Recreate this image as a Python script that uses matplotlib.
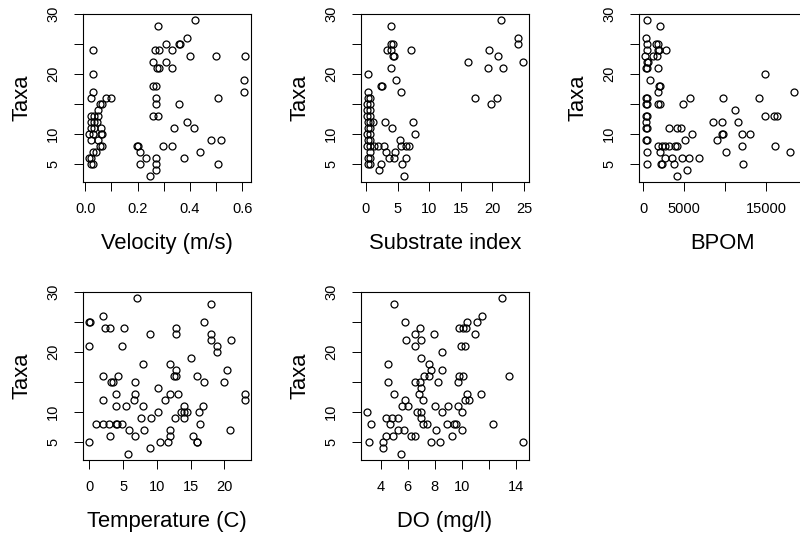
import numpy as np
import matplotlib
matplotlib.use("Agg")
import matplotlib.pyplot as plt

plt.rcParams['font.family'] = ['Liberation Sans', 'DejaVu Sans']

# Velocity (m/s) vs Taxa
vel_x = [0.029, 0.02, 0.08, 0.10, 0.057, 0.064, 0.048, 0.023, 0.035, 0.048,
         0.02, 0.035, 0.045, 0.02, 0.035, 0.06, 0.015, 0.03, 0.06, 0.063,
         0.02, 0.05, 0.058, 0.062, 0.03, 0.04, 0.016, 0.023, 0.02, 0.03,
         0.03, 0.03,
         0.42, 0.278, 0.609, 0.50, 0.40, 0.388, 0.357, 0.36, 0.31, 0.33,
         0.266, 0.28, 0.26, 0.31, 0.28, 0.275, 0.33, 0.606, 0.606, 0.26,
         0.27, 0.27, 0.27, 0.26, 0.278, 0.505, 0.357, 0.338, 0.388, 0.417,
         0.297, 0.33, 0.48, 0.518, 0.197, 0.20, 0.209, 0.23, 0.208, 0.438,
         0.378, 0.505, 0.27, 0.27, 0.27, 0.247]
vel_y = [17, 16, 16, 16, 15, 15, 14, 13, 13, 13,
         12, 12, 12, 11, 11, 11, 10, 10, 10, 10,
         9, 9, 8, 8, 7, 7, 6, 6, 5, 5,
         24, 20,
         29, 28, 23, 23, 23, 26, 25, 25, 25, 24,
         24, 24, 22, 22, 21, 21, 21, 19, 17, 18,
         18, 16, 15, 13, 13, 16, 15, 11, 12, 11,
         8, 8, 9, 9, 8, 8, 7, 6, 5, 7,
         6, 5, 6, 5, 4, 3]

# Substrate index vs Taxa
sub_x = [0.3, 0.3, 0.3, 0.6, 0.2, 0.7, 0.2, 0.7, 0.2, 0.7,
         0.3, 0.7, 1.1, 0.3, 0.7, 0.2, 0.7, 0.3, 0.7, 0.2,
         0.6, 1.3, 1.9, 0.6, 0.3, 0.7, 0.3, 0.7,
         2.8, 3.0, 4.1, 3.1, 3.6, 4.4, 4.6, 5.4, 5.6, 6.4,
         6.8, 6.4, 5.7, 6.0, 7.4, 7.8, 2.3, 2.1, 2.4, 2.5,
         7.05, 4.8, 5.5, 3.9, 3.9, 4.0, 4.2, 3.4, 4.0, 4.3, 4.5,
         21.4, 24.1, 24.0, 24.8, 19.4, 20.9, 16.2, 19.3, 21.6, 17.3,
         20.8, 19.8]
sub_y = [20, 17, 16, 16, 15, 15, 14, 14, 13, 13,
         12, 12, 12, 11, 11, 10, 10, 9, 9, 8,
         8, 8, 8, 7, 6, 6, 5, 5,
         8, 12, 11, 7, 6, 6, 7, 9, 8, 8,
         8, 6, 5, 3, 12, 10, 5, 4, 18, 18,
         24, 19, 17, 21, 28, 25, 25, 24, 24, 23, 23,
         29, 26, 25, 22, 24, 23, 22, 21, 21, 16,
         16, 15]

# BPOM vs Taxa
bpom_x = [430, 2030, 390, 470, 1560, 1875, 510, 1760, 1950, 2810,
          230, 1170, 1640, 510, 590, 350, 480, 1840, 900, 2070,
          1950, 1760, 1760, 2070, 350, 480, 300, 480, 300, 480,
          400, 300, 450, 380, 500, 450, 450,
          14880, 14180, 14920, 15940, 16400, 18440, 16090, 17970,
          9770, 11170, 8590, 9610, 11640, 8980, 9570, 9690, 12110, 13050,
          12110, 10160, 12150,
          5780, 4880, 5940, 5120, 4610, 4140, 3125, 6840, 5660, 4690,
          5310, 4180, 3750, 3515, 2620, 2150, 2270, 2070,
          1800, 2270, 2730, 3200, 3900, 4100]
bpom_y = [29, 28, 26, 25, 25, 25, 24, 24, 24, 24,
          23, 23, 23, 22, 22, 21, 21, 21, 19, 18,
          18, 17, 15, 15, 16, 16, 15, 15, 13, 13,
          12, 11, 11, 9, 9, 7, 5,
          20, 16, 13, 13, 13, 17, 8, 7,
          16, 14, 12, 12, 12, 9, 10, 10, 10, 10,
          8, 7, 5,
          16, 15, 10, 9, 11, 11, 11, 6, 6, 6,
          4, 3, 5, 6, 6, 5, 5, 7,
          8, 8, 8, 8, 8, 8]

# Temperature (C) vs Taxa
temp_x = [7.0, 18.0, 2.0, 0.0, 0.1, 16.9, 2.4, 3.05, 5.2, 12.8,
          9.0, 12.9, 18.0, 18.0, 20.9, 18.9, 18.9, 0.0, 4.9,
          15.0, 8.0, 11.9, 12.9, 20.4, 12.6, 12.9, 2.1, 4.2, 15.9,
          3.2, 3.5, 6.7, 16.9, 19.9,
          10.1, 3.9, 6.8, 11.9, 13.2, 23.0, 23.0, 2.0, 6.6, 11.2,
          3.9, 5.5, 8.0, 14.0, 16.8, 13.6, 14.0, 14.4, 10.1, 16.3,
          7.6, 9.1, 12.7, 14.0,
          1.0, 2.0, 2.9, 3.9, 4.1, 4.9, 16.4,
          5.9, 8.1, 11.9, 20.8,
          3.0, 6.7, 11.9, 15.3,
          0.0, 10.4, 11.7, 15.9, 16.0,
          9.0, 5.8]
temp_y = [29, 28, 26, 25, 25, 25, 24, 24, 24, 24,
          23, 23, 23, 22, 22, 21, 20, 21, 21,
          19, 18, 18, 17, 17, 16, 16, 16, 16, 16,
          15, 15, 15, 15, 15,
          14, 13, 13, 13, 13, 13, 12, 12, 12, 12,
          11, 11, 11, 11, 11, 10, 10, 10, 10, 10,
          9, 9, 9, 9,
          8, 8, 8, 8, 8, 8, 8,
          7, 7, 7, 7,
          6, 6, 6, 6,
          5, 5, 5, 5, 5,
          4, 3]

# DO (mg/l) vs Taxa
do_x = [13.0, 5.0, 11.5, 5.8, 11.1, 10.4,
        6.9, 9.8, 10.1, 10.3, 6.5, 7.9, 11.0, 5.9, 7.0,
        6.5, 9.9, 10.2, 8.5, 7.0, 4.5, 7.6, 7.7, 8.5,
        7.2, 7.6, 9.8, 10.1, 13.5,
        4.5, 6.5, 6.9, 8.2, 9.7, 7.0,
        5.0, 6.8, 10.4, 11.4, 5.8, 7.1, 10.2, 10.5,
        5.6, 6.0, 8.0, 9.0, 9.7,
        3.0, 6.7, 7.0, 8.5, 10.0,
        4.4, 4.8, 5.3, 7.0,
        3.3, 4.7, 7.1, 7.4, 8.9, 9.4, 9.6, 12.3,
        5.3, 5.7, 8.1, 10.0,
        4.4, 4.9, 6.2, 6.5, 9.3,
        3.1, 4.2, 7.7, 8.4, 14.5,
        4.2, 5.5]
do_y = [29, 28, 26, 25, 25, 25,
        24, 24, 24, 24, 23, 23, 23, 22, 22,
        21, 21, 21, 20, 19, 18, 18, 17, 17,
        16, 16, 16, 16, 16,
        15, 15, 15, 15, 15, 14,
        13, 13, 13, 13, 12, 12, 12, 12,
        11, 11, 11, 11, 11,
        10, 10, 10, 10, 10,
        9, 9, 9, 9,
        8, 8, 8, 8, 8, 8, 8, 8,
        7, 7, 7, 7,
        6, 6, 6, 6, 6,
        5, 5, 5, 5, 5,
        4, 3]

panels = [
    (vel_x, vel_y, "Velocity (m/s)", [0.0, 0.1, 0.2, 0.3, 0.4, 0.5, 0.6],
     ["0.0", "", "0.2", "", "0.4", "", "0.6"]),
    (sub_x, sub_y, "Substrate index", [0, 5, 10, 15, 20, 25],
     ["0", "5", "10", "15", "20", "25"]),
    (bpom_x, bpom_y, "BPOM", [0, 5000, 10000, 15000, 20000],
     ["0", "5000", "", "15000", ""]),
    (temp_x, temp_y, "Temperature (C)", [0, 5, 10, 15, 20],
     ["0", "5", "10", "15", "20"]),
    (do_x, do_y, "DO (mg/l)", [4, 6, 8, 10, 12, 14],
     ["4", "6", "8", "10", "", "14"]),
]

y_ticks = [5, 10, 15, 20, 25, 30]
y_labels = ["5", "10", "", "20", "", "30"]

W, H = 800, 537
lefts = [83, 361, 639]
tops = [14, 292]
size = 168


def rlim(v):
    # R style axis range: data range padded by 4% on each side
    lo, hi = min(v), max(v)
    r = hi - lo
    return lo - 0.04 * r, hi + 0.04 * r


fig = plt.figure(figsize=(W / 100, H / 100), dpi=100)

for i, (x, y, xlab, xt, xtl) in enumerate(panels):
    row, col = divmod(i, 3)
    ax = fig.add_axes([lefts[col] / W, (H - tops[row] - size) / H, size / W, size / H])
    ax.plot(x, y, 'o', mfc='none', mec='black', mew=0.9, ms=5.0, clip_on=False)
    ax.set_xlim(*rlim(x))
    ax.set_ylim(*rlim(y))
    ax.set_xticks(xt)
    ax.set_xticklabels(xtl)
    ax.set_yticks(y_ticks)
    ax.set_yticklabels(y_labels, rotation=90, va='center')
    ax.tick_params(length=6.5, width=0.7, labelsize=10.5, color='black')
    ax.tick_params(axis='x', pad=8)
    ax.tick_params(axis='y', pad=10)
    for s in ax.spines.values():
        s.set_linewidth(0.8)
    ax.set_xlabel(xlab, fontsize=15.8, labelpad=12)
    ax.set_ylabel("Taxa", fontsize=15.8, labelpad=10)

fig.savefig("out.png", dpi=100)
